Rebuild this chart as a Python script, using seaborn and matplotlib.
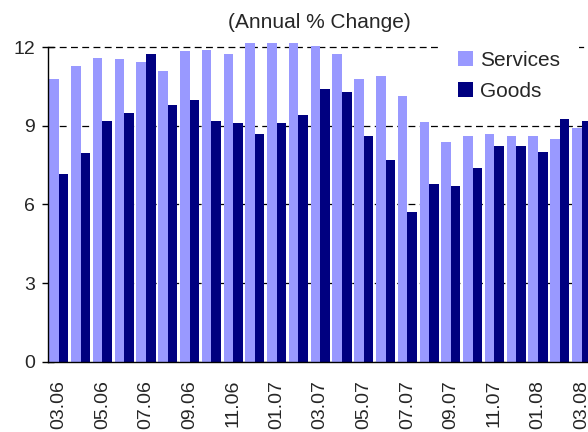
import numpy as np
import pandas as pd
import matplotlib
matplotlib.use('Agg')
import matplotlib.pyplot as plt
from matplotlib.patches import Patch
import seaborn as sns

# monthly categories, 03.06 .. 03.08
months = ['03.06', '04.06', '05.06', '06.06', '07.06', '08.06', '09.06', '10.06',
          '11.06', '12.06', '01.07', '02.07', '03.07', '04.07', '05.07', '06.07',
          '07.07', '08.07', '09.07', '10.07', '11.07', '12.07', '01.08', '02.08',
          '03.08']

# annual % change
services = [10.8, 11.3, 11.6, 11.55, 11.45, 11.1, 11.85, 11.9, 11.75, 12.15,
            12.15, 12.15, 12.05, 11.75, 10.8, 10.9, 10.15, 9.15, 8.4, 8.6,
            8.7, 8.6, 8.6, 8.5, 8.9]
goods = [7.15, 7.95, 9.2, 9.5, 11.75, 9.8, 10.0, 9.2, 9.1, 8.7,
         9.1, 9.4, 10.4, 10.3, 8.6, 7.7, 5.7, 6.8, 6.7, 7.4,
         8.25, 8.25, 8.0, 9.3, 9.2]

series_names = ['Services', 'Goods']
colors = {'Services': '#9999FF', 'Goods': '#000080'}

df = pd.DataFrame({
    'month': months * 2,
    'value': services + goods,
    'series': ['Services'] * len(months) + ['Goods'] * len(months),
})

sns.set_style('white')
plt.rcParams['font.family'] = ['Liberation Sans', 'DejaVu Sans']

fig = plt.figure(figsize=(5.88, 4.32), dpi=100)
# plot area runs a little past the right edge, like the original
ax = fig.add_axes([0.0816, 0.1627, 0.926, 0.7461])

sns.barplot(data=df, x='month', y='value', hue='series', hue_order=series_names,
            order=months, palette=colors, saturation=1, width=0.88,
            linewidth=0, legend=False, ax=ax)

ax.set_xlim(-0.5, len(months) - 0.5)
ax.set_ylim(0, 12.3)
ax.set_yticks([0, 3, 6, 9, 12])
ax.spines['left'].set_bounds(0, 12)
for side in ['top', 'right']:
    ax.spines[side].set_visible(False)
for side in ['left', 'bottom']:
    ax.spines[side].set_color('black')
    ax.spines[side].set_linewidth(1)

# dashed gridlines behind the bars
ax.set_axisbelow(True)
ax.yaxis.grid(True, color='black', linestyle=(0, (5.5, 3.5)), linewidth=0.9)
ax.xaxis.grid(False)

# labels every other month, ticks on the category boundaries
ax.set_xticks(np.arange(0, len(months), 2))
ax.set_xticklabels(months[::2], rotation=90, fontsize=14)
ax.set_xticks(np.arange(-0.5, len(months), 2), minor=True)
ax.tick_params(axis='x', which='major', length=0, pad=13)
ax.tick_params(axis='x', which='minor', direction='out', length=4.5,
               width=1, color='black')
ax.tick_params(axis='y', direction='inout', length=9, width=1, color='black',
               labelsize=14, pad=5, left=True)
ax.set_xlabel('')
ax.set_ylabel('')

handles = [Patch(facecolor=colors[s], edgecolor='none', label=s) for s in series_names]
ax.legend(handles=handles, loc='upper left', bbox_to_anchor=(0.747, 0.925),
          bbox_transform=fig.transFigure, frameon=True, facecolor='white',
          edgecolor='none', framealpha=1, fancybox=False, fontsize=15,
          borderpad=0.9, handlelength=0.72, handleheight=0.72,
          handletextpad=0.35, labelspacing=0.55, borderaxespad=0)

fig.text(0.544, 0.949, '(Annual % Change)', ha='center', va='center', fontsize=15)

fig.savefig('out.png', dpi=100)
